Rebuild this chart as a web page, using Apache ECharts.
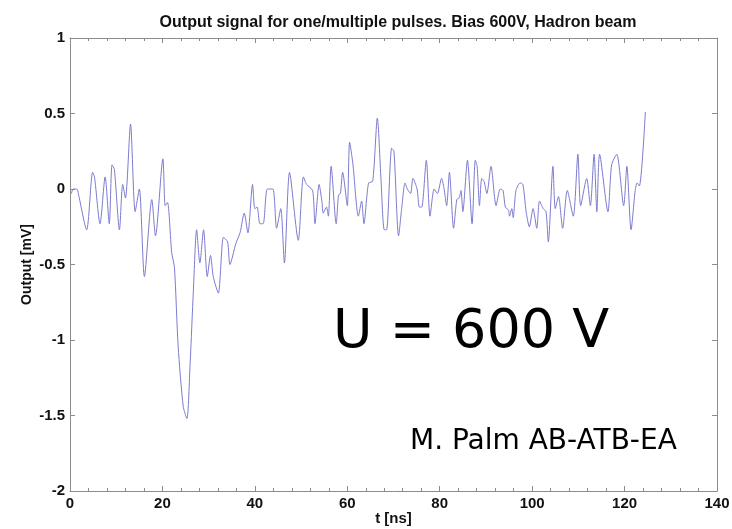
<!DOCTYPE html>
<html>
<head>
<meta charset="utf-8">
<script src="https://cdn.jsdelivr.net/npm/echarts@6/dist/echarts.min.js"></script>
<style>
  html, body { margin: 0; padding: 0; background: #fff; }
  #chart { width: 732px; height: 529px; }
</style>
</head>
<body>
<div id="chart"></div>
<script>
// time axis of the trace, ns (at turning points)
const tNs = [
  0.3, 0.7, 1.5, 1.8, 3.6, 4.9, 5.3, 6.5, 7.6, 8.5, 9.1, 9.6, 10.7, 11.4, 12.0, 13.1, 14.1, 15.0,
  16.1, 17.7, 18.5, 20.1, 20.6, 21.1, 22.0, 22.6, 23.4, 24.5, 25.3, 26.0, 26.7, 27.4, 28.1, 28.9,
  29.7, 30.4, 31.0, 32.1, 33.2, 34.1, 34.6, 35.9, 36.8, 37.7, 38.5, 39.5, 40.0, 40.5, 41.1, 41.8,
  42.7, 43.9, 44.7, 45.6, 46.4, 47.5, 49.4, 50.5, 51.2, 52.5, 53.0, 53.9, 54.5, 54.8, 55.5, 55.9,
  56.5, 57.6, 58.1, 58.5, 59.0, 60.0, 60.5, 61.2, 62.4, 63.1, 63.6, 64.6, 65.5, 66.5, 67.3, 68.0,
  68.5, 69.6, 70.1, 71.1, 71.8, 72.5, 73.0, 73.7, 74.2, 75.1, 75.6, 76.1, 77.1, 77.9, 78.8, 79.5,
  80.4, 80.9, 81.5, 82.1, 83.0, 83.7, 84.2, 84.6, 85.0, 86.0, 87.0, 87.7, 88.1, 88.6, 89.1, 89.6,
  90.2, 91.1, 92.2, 93.1, 93.7, 94.2, 94.9, 95.1, 95.6, 95.9, 96.5, 97.4, 98.0, 98.7, 99.4, 100.2,
  101.0, 101.6, 102.4, 103.0, 103.5, 104.5, 105.0, 105.7, 106.6, 107.6, 108.9, 109.9, 110.5, 111.8,
  112.6, 113.4, 114.0, 114.6, 116.4, 117.2, 118.3, 119.8, 120.5, 121.4, 122.3, 122.7, 123.2, 124.5
];
// output, mV
const outputMv = [
  -0.03, 0.0, 0.0, -0.03, -0.27, 0.11, 0.08, -0.23, 0.08, -0.23, 0.16, 0.13, -0.27, 0.03, -0.06, 0.43, -0.15, 0.0,
  -0.58, -0.07, -0.31, 0.2, -0.11, -0.09, -0.42, -0.52, -1.04, -1.44, -1.52, -1.15, -0.67, -0.27, -0.49, -0.27,
  -0.58, -0.44, -0.58, -0.69, -0.32, -0.35, -0.5, -0.36, -0.29, -0.16, -0.29, 0.03, -0.13, -0.12, -0.23, -0.23,
  0.0, 0.0, -0.26, -0.13, -0.49, 0.11, -0.34, 0.08, 0.03, -0.01, -0.23, 0.03, -0.08, -0.16, -0.12, -0.18,
  0.15, -0.23, -0.04, -0.03, 0.11, -0.11, 0.31, 0.17, -0.18, -0.08, -0.23, 0.04, 0.05, 0.47, 0.06, -0.27,
  -0.27, 0.27, 0.25, -0.31, -0.12, 0.04, 0.0, -0.03, 0.07, 0.0, -0.12, -0.12, 0.19, -0.18, 0.0, -0.03,
  0.07, 0.01, -0.11, 0.11, -0.26, -0.07, -0.06, -0.01, -0.15, 0.19, -0.23, 0.19, 0.15, -0.11, 0.07, 0.05,
  -0.03, 0.15, -0.11, 0.0, -0.01, -0.12, -0.14, -0.18, -0.13, -0.19, -0.01, 0.04, 0.03, -0.15, -0.25, -0.13,
  -0.26, -0.08, -0.13, -0.15, -0.35, 0.15, -0.13, -0.05, -0.26, -0.01, -0.18, 0.23, -0.11, 0.07,
  -0.11, 0.23, -0.15, 0.23, -0.15, 0.16, 0.23, -0.11, 0.15, -0.27, -0.01, 0.04, 0.02, 0.51
];
const xTicks = [0, 20, 40, 60, 80, 100, 120, 140];
const yTicks = [-2, -1.5, -1, -0.5, 0, 0.5, 1];

const chart = echarts.init(document.getElementById('chart'));
const axisGrey = '#8c8c8c';
const labelFont = { color: '#111', fontFamily: 'Liberation Sans, Arial', fontWeight: 'bold', fontSize: 15 };

const frameAxis = {
  axisLine: { show: true, onZero: false, lineStyle: { color: axisGrey, width: 1 } },
  axisTick: { show: true, inside: true, length: 5, lineStyle: { color: axisGrey } },
  splitLine: { show: false }
};

const option = {
  animation: false,
  backgroundColor: '#fff',
  title: {
    text: 'Output signal for one/multiple pulses. Bias 600V, Hadron beam',
    left: 393, top: 10, textAlign: 'center',
    textStyle: { fontFamily: 'Liberation Sans, Arial', fontSize: 16, fontWeight: 'bold', color: '#111' }
  },
  grid: { left: 70, right: 15, top: 38, bottom: 38, outerBoundsMode: 'none', containLabel: false },
  xAxis: [
    Object.assign({}, frameAxis, {
      type: 'value', min: xTicks[0], max: xTicks[xTicks.length - 1], interval: 20,
      name: 't [ns]', nameLocation: 'middle', nameGap: 20, nameMoveOverlap: false,
      nameTextStyle: labelFont,
      axisLabel: Object.assign({ margin: 5 }, labelFont),
      minorTick: { show: true, splitNumber: 5, length: 3, lineStyle: { color: axisGrey } }
    }),
    Object.assign({}, frameAxis, {
      type: 'value', position: 'top', min: 0, max: 140, interval: 20,
      axisLabel: { show: false },
      minorTick: { show: true, splitNumber: 5, length: 3, lineStyle: { color: axisGrey } }
    })
  ],
  yAxis: [
    Object.assign({}, frameAxis, {
      type: 'value', min: yTicks[0], max: yTicks[yTicks.length - 1], interval: 0.5,
      name: 'Output [mV]', nameLocation: 'middle', nameGap: 36, nameMoveOverlap: false, nameRotate: 90,
      nameTextStyle: Object.assign({}, labelFont, { fontSize: 14 }),
      axisLabel: Object.assign({ margin: 5 }, labelFont)
    }),
    Object.assign({}, frameAxis, {
      type: 'value', position: 'right', min: -2, max: 1, interval: 0.5,
      axisLabel: { show: false }
    })
  ],
  graphic: [
    {
      type: 'text', left: 333, top: 306,
      style: { text: 'U = 600 V', font: '54px "DejaVu Sans"', fill: '#000' }
    },
    {
      type: 'text', left: 410, top: 428,
      style: { text: 'M. Palm AB-ATB-EA', font: '28px "DejaVu Sans"', fill: '#000' }
    }
  ],
  series: [{
    type: 'line',
    xAxisIndex: 0, yAxisIndex: 0,
    data: tNs.map((t, i) => [t, outputMv[i]]),
    showSymbol: false,
    smooth: 0.25,
    lineStyle: { color: '#7c7cd0', width: 1 }
  }]
};
chart.setOption(option);
</script>
</body>
</html>
